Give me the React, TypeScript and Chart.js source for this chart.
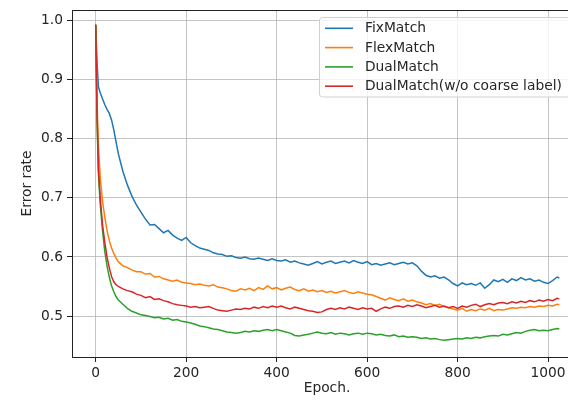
import React, { useEffect, useRef } from "react";
import { Chart, registerables } from "chart.js";

Chart.register(...registerables);

const epochs = [
  0, 3, 6, 10, 15, 20, 25, 30, 35, 40, 45, 50,
  60, 70, 80, 90, 100, 110, 120, 130, 140, 150,
  160, 170, 180, 190, 200, 210, 220, 230, 240, 250,
  260, 270, 280, 290, 300, 310, 320, 330, 340, 350,
  360, 370, 380, 390, 400, 410, 420, 430, 440, 450,
  460, 470, 480, 490, 500, 510, 520, 530, 540, 550,
  560, 570, 580, 590, 600, 610, 620, 630, 640, 650,
  660, 670, 680, 690, 700, 710, 720, 730, 740, 750,
  760, 770, 780, 790, 800, 810, 820, 830, 840, 850,
  860, 870, 880, 890, 900, 910, 920, 930, 940, 950,
  960, 970, 980, 990, 1000, 1010, 1020, 1025,
];

const fixMatch = [
  0.993, 0.93, 0.888, 0.878, 0.868, 0.858, 0.85, 0.843, 0.832, 0.815, 0.795, 0.775,
  0.745, 0.722, 0.703, 0.688, 0.676, 0.664, 0.654, 0.655, 0.648, 0.641,
  0.645, 0.637, 0.632, 0.628, 0.633, 0.624, 0.619, 0.615, 0.613, 0.611,
  0.607, 0.605, 0.604, 0.601, 0.602, 0.599, 0.598, 0.6, 0.597, 0.596,
  0.598, 0.596, 0.594, 0.597, 0.594, 0.593, 0.595, 0.591, 0.593, 0.59,
  0.588, 0.586, 0.589, 0.592, 0.588, 0.591, 0.593, 0.589, 0.591, 0.593,
  0.59, 0.594, 0.591, 0.589, 0.592, 0.587, 0.589, 0.586, 0.588, 0.59,
  0.587, 0.589, 0.591, 0.588, 0.59, 0.585, 0.576, 0.569, 0.566, 0.568,
  0.564, 0.566, 0.561, 0.555, 0.551, 0.556, 0.553, 0.555, 0.552, 0.556,
  0.547, 0.553, 0.561, 0.558, 0.562, 0.557, 0.563, 0.56, 0.565, 0.561,
  0.563, 0.559, 0.561, 0.557, 0.555, 0.56, 0.566, 0.564,
];

const flexMatch = [
  0.993, 0.86, 0.79, 0.735, 0.695, 0.668, 0.645, 0.628, 0.615, 0.606, 0.598, 0.592,
  0.585, 0.582, 0.578, 0.575, 0.575, 0.571, 0.572, 0.566, 0.567, 0.563,
  0.561, 0.559, 0.561, 0.557, 0.556, 0.555, 0.553, 0.554, 0.552, 0.551,
  0.553, 0.549, 0.548, 0.546, 0.543, 0.542, 0.546, 0.544, 0.547, 0.543,
  0.548, 0.545, 0.551, 0.546, 0.548, 0.544, 0.547, 0.549, 0.545, 0.543,
  0.546, 0.542, 0.544, 0.541, 0.543, 0.54, 0.542, 0.539, 0.541, 0.543,
  0.54, 0.538, 0.541, 0.539, 0.537, 0.536, 0.533, 0.53, 0.527, 0.531,
  0.528, 0.526, 0.529, 0.525, 0.527, 0.524, 0.522, 0.519, 0.521, 0.518,
  0.52, 0.516, 0.514, 0.512, 0.51, 0.513, 0.508, 0.511, 0.509, 0.512,
  0.51, 0.513, 0.509, 0.511, 0.51, 0.512, 0.514, 0.513, 0.515, 0.514,
  0.516, 0.515, 0.517, 0.516, 0.518, 0.517, 0.52, 0.519,
];

const dualMatch = [
  0.993, 0.83, 0.74, 0.69, 0.645, 0.61, 0.585, 0.566, 0.551, 0.541, 0.533, 0.527,
  0.52, 0.513, 0.508, 0.505, 0.502, 0.501, 0.499, 0.497, 0.498, 0.495,
  0.496, 0.493, 0.494, 0.491, 0.49, 0.488, 0.486, 0.483, 0.482, 0.48,
  0.478, 0.477, 0.475, 0.473, 0.472, 0.471, 0.472, 0.474, 0.473, 0.475,
  0.474, 0.476, 0.477, 0.475, 0.477, 0.475, 0.473, 0.471, 0.467, 0.466,
  0.468, 0.469, 0.471, 0.473, 0.471, 0.47, 0.472, 0.469, 0.471, 0.47,
  0.468, 0.47, 0.471, 0.469, 0.471, 0.47, 0.468, 0.469, 0.467, 0.466,
  0.468, 0.465, 0.466, 0.464, 0.465, 0.464, 0.462, 0.463, 0.461, 0.462,
  0.46, 0.459, 0.46, 0.461, 0.462, 0.461, 0.463, 0.462, 0.464, 0.463,
  0.465, 0.466, 0.467, 0.466, 0.469, 0.468, 0.47, 0.472, 0.471, 0.474,
  0.476, 0.477, 0.475, 0.476, 0.475, 0.477, 0.479, 0.478,
];

const dualMatchNoCoarse = [
  0.993, 0.84, 0.75, 0.7, 0.655, 0.625, 0.6, 0.582, 0.567, 0.558, 0.553, 0.55,
  0.546, 0.543, 0.541, 0.537, 0.535, 0.531, 0.533, 0.528, 0.529, 0.526,
  0.524, 0.521, 0.519, 0.518, 0.517, 0.515, 0.516, 0.514, 0.515, 0.516,
  0.513, 0.51, 0.509, 0.508, 0.51, 0.512, 0.511, 0.513, 0.512, 0.515,
  0.513, 0.516, 0.514, 0.517, 0.515, 0.517, 0.514, 0.512, 0.515, 0.513,
  0.511, 0.509, 0.508, 0.506, 0.507, 0.511, 0.513, 0.511, 0.514, 0.512,
  0.515, 0.513, 0.511, 0.514, 0.512, 0.513, 0.508, 0.512, 0.515, 0.513,
  0.516, 0.517, 0.515, 0.518, 0.516, 0.519, 0.517, 0.514, 0.516, 0.518,
  0.515, 0.517, 0.514, 0.516, 0.513, 0.517, 0.515, 0.518, 0.52, 0.516,
  0.519, 0.521, 0.519, 0.522, 0.523, 0.521, 0.524, 0.522, 0.525, 0.523,
  0.526, 0.524, 0.527, 0.525, 0.528, 0.526, 0.53, 0.529,
];

const seriesLabels = ["FixMatch", "FlexMatch", "DualMatch", "DualMatch(w/o coarse label)"];
const seriesColors = ["#1f77b4", "#ff7f0e", "#2ca02c", "#d62728"];
const seriesValues = [fixMatch, flexMatch, dualMatch, dualMatchNoCoarse];

const xTicks = [0, 200, 400, 600, 800, 1000];
const yTicks = [0.5, 0.6, 0.7, 0.8, 0.9, 1.0];
const xTitle = "Epoch.";
const yTitle = "Error rate";

const FONT = "'DejaVu Sans', sans-serif";
const TEXT = "#262626";

const frameAndLegend = {
  id: "frameAndLegend",
  afterDatasetsDraw(chart: any) {
    const { ctx, chartArea } = chart;
    ctx.save();
    ctx.strokeStyle = "#222";
    ctx.lineWidth = 1;
    ctx.strokeRect(
      Math.round(chartArea.left) + 0.5,
      Math.round(chartArea.top) + 0.5,
      Math.round(chartArea.right - chartArea.left),
      Math.round(chartArea.bottom - chartArea.top)
    );

    const bx = 319.5, by = 17.5, bw = 254, bh = 79.5, r = 3;
    ctx.beginPath();
    ctx.moveTo(bx + r, by);
    ctx.lineTo(bx + bw - r, by);
    ctx.arcTo(bx + bw, by, bx + bw, by + r, r);
    ctx.lineTo(bx + bw, by + bh - r);
    ctx.arcTo(bx + bw, by + bh, bx + bw - r, by + bh, r);
    ctx.lineTo(bx + r, by + bh);
    ctx.arcTo(bx, by + bh, bx, by + bh - r, r);
    ctx.lineTo(bx, by + r);
    ctx.arcTo(bx, by, bx + r, by, r);
    ctx.closePath();
    ctx.fillStyle = "rgba(255,255,255,0.8)";
    ctx.fill();
    ctx.strokeStyle = "#d0d0d0";
    ctx.lineWidth = 1;
    ctx.stroke();

    ctx.font = `13.8px ${FONT}`;
    ctx.textBaseline = "middle";
    ctx.textAlign = "left";
    chart.data.datasets.forEach((ds: any, i: number) => {
      const y = 28.3 + i * 19.3;
      ctx.strokeStyle = ds.borderColor;
      ctx.lineWidth = 1.6;
      ctx.beginPath();
      ctx.moveTo(325, y);
      ctx.lineTo(353, y);
      ctx.stroke();
      ctx.fillStyle = TEXT;
      ctx.fillText(ds.label, 365, y + 0.5);
    });
    ctx.restore();
  },
};

export default function App() {
  const ref = useRef<HTMLCanvasElement | null>(null);

  useEffect(() => {
    if (!ref.current) return;
    const datasets = seriesValues.map((vals, si) => ({
      label: seriesLabels[si],
      data: epochs.map((e, i) => ({ x: e, y: vals[i] })),
      borderColor: seriesColors[si],
      backgroundColor: seriesColors[si],
      borderWidth: 1.5,
      pointRadius: 0,
      tension: 0,
      fill: false,
      order: seriesValues.length - 1 - si,
    }));

    const chart = new Chart(ref.current, {
      type: "line",
      data: { datasets },
      plugins: [frameAndLegend],
      options: {
        animation: false,
        responsive: false,
        maintainAspectRatio: false,
        layout: { padding: { top: 10, right: 18, bottom: 0, left: 0 } },
        plugins: { legend: { display: false }, tooltip: { enabled: false } },
        scales: {
          x: {
            type: "linear",
            min: -52.4,
            max: 1075,
            afterBuildTicks: (s: any) => {
              s.ticks = xTicks.map((v) => ({ value: v }));
            },
            afterFit: (s: any) => {
              s.height = 43;
              s.paddingLeft = 0;
              s.paddingRight = 0;
            },
            grid: {
              color: "rgba(176,176,176,0.75)",
              lineWidth: 1,
              tickColor: "#222",
              tickLength: 5,
            },
            border: { display: false },
            ticks: {
              padding: 3,
              color: TEXT,
              font: { family: FONT, size: 13.8 },
              maxRotation: 0,
              callback: (v: any) => String(v),
            },
            title: {
              display: true,
              text: xTitle,
              color: TEXT,
              font: { family: FONT, size: 13.8 },
              padding: { top: 0, bottom: 3 },
            },
          },
          y: {
            type: "linear",
            min: 0.4306,
            max: 1.0181,
            afterBuildTicks: (s: any) => {
              s.ticks = yTicks.map((v) => ({ value: v }));
            },
            afterFit: (s: any) => {
              s.width = 72;
              s.paddingTop = 0;
              s.paddingBottom = 0;
            },
            grid: {
              color: "rgba(176,176,176,0.75)",
              lineWidth: 1,
              tickColor: "#222",
              tickLength: 5,
            },
            border: { display: false },
            ticks: {
              padding: 4,
              color: TEXT,
              font: { family: FONT, size: 13.8 },
              callback: (v: any) => Number(v).toFixed(1),
            },
            title: {
              display: true,
              text: yTitle,
              color: TEXT,
              font: { family: FONT, size: 13.8 },
              padding: { top: 19, bottom: 0 },
            },
          },
        },
      },
    });
    return () => chart.destroy();
  }, []);

  return (
    <div
      style={{
        position: "absolute",
        left: 0,
        top: 0,
        width: 568,
        height: 400,
        overflow: "hidden",
        background: "#fff",
      }}
    >
      <canvas
        ref={ref}
        width={600}
        height={400}
        style={{ display: "block", width: "600px", height: "400px", maxWidth: "none" }}
      />
    </div>
  );
}
